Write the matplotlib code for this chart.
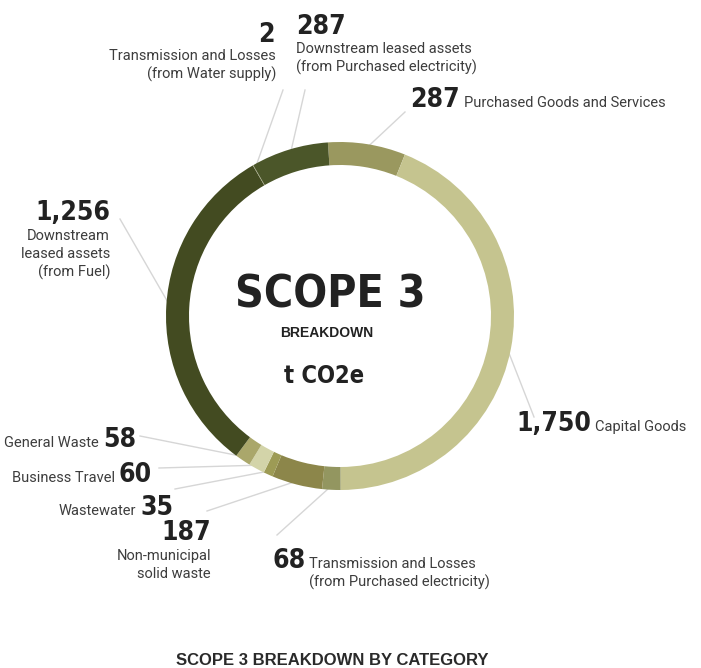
import numpy as np
from matplotlib import pyplot as plt

# scope 3 emissions by category (t CO2e), clockwise from the top
categories = ['Purchased Goods and Services', 'Capital Goods',
              'Transmission and Losses (from Purchased electricity)',
              'Non-municipal solid waste', 'Wastewater', 'Business Travel',
              'General Waste', 'Downstream leased assets (from Fuel)',
              'Transmission and Losses (from Water supply)',
              'Downstream leased assets (from Purchased electricity)']
values = [287, 1750, 68, 187, 35, 60, 58, 1256, 2, 287]
value_labels = ['287', '1,750', '68', '187', '35', '60', '58', '1,256', '2', '287']
colors = ['#9a985f', '#c5c48f', '#939660', '#8c864a', '#9d9b55',
          '#d3d4a9', '#aaa76b', '#434b21', '#a3a37c', '#4b5629']

W, H = 701, 668
CX, CY = 340, 316       # ring centre, measured from the top
R, RING = 174, 23

NUM_FONT = ['DejaVu Sans']
TXT_FONT = ['Roboto', 'DejaVu Sans']
TXT_SIZE = 10.5
NUM_COLOR = '#222222'
TXT_COLOR = '#3d3d3d'
LINE_COLOR = '#d6d6d6'


def Y(y):
    # top-down pixel position -> axis units
    return H - y


fig = plt.figure(figsize=(W / 100, H / 100), dpi=100)
ax = fig.add_axes([0, 0, 1, 1])
wedges, _ = ax.pie(values, colors=colors, startangle=94, counterclock=False,
                   radius=R, center=(CX, Y(CY)),
                   wedgeprops=dict(width=RING, edgecolor='none'))
ax.set_xlim(0, W)
ax.set_ylim(0, H)
ax.set_aspect('equal')
ax.axis('off')


def leader(i, x_end, y_end):
    w = wedges[i]
    th = np.deg2rad((w.theta1 + w.theta2) / 2)
    x0 = CX + (R - 4) * np.cos(th)
    y0 = Y(CY) + (R - 4) * np.sin(th)
    ax.plot([x0, x_end], [y0, Y(y_end)], color=LINE_COLOR, lw=1, zorder=0)


def number(s, x, y, ha, size=19):
    return ax.text(x, Y(y), s, ha=ha, va='baseline', fontsize=size,
                   fontweight='bold', fontstretch='condensed',
                   family=NUM_FONT, color=NUM_COLOR)


def side_text(num, s, y, side):
    # plain label placed right or left of the big number, same baseline
    if side == 'right':
        ax.annotate(s, xy=(1, Y(y)), xycoords=(num, 'data'), xytext=(3, 0),
                    textcoords='offset points', ha='left', va='baseline',
                    fontsize=TXT_SIZE, family=TXT_FONT, color=TXT_COLOR)
    else:
        ax.annotate(s, xy=(0, Y(y)), xycoords=(num, 'data'), xytext=(-3, 0),
                    textcoords='offset points', ha='right', va='baseline',
                    fontsize=TXT_SIZE, family=TXT_FONT, color=TXT_COLOR)


def lines(rows, x, y0, step, ha):
    for k, s in enumerate(rows):
        ax.text(x, Y(y0 + k * step), s, ha=ha, va='baseline', fontsize=TXT_SIZE,
                family=TXT_FONT, color=TXT_COLOR)


# Purchased Goods and Services
n = number(value_labels[0], 410, 107, 'left')
side_text(n, 'Purchased Goods and Services', 107, 'right')
leader(0, 405, 112)

# Capital Goods
n = number(value_labels[1], 516, 431, 'left')
side_text(n, 'Capital Goods', 431, 'right')
leader(1, 534, 417)

# Transmission and Losses (purchased electricity)
n = number(value_labels[2], 272, 568, 'left')
side_text(n, 'Transmission and Losses', 568, 'right')
side_text(n, '(from Purchased electricity)', 587, 'right')
leader(2, 277, 535)

# Non-municipal solid waste
number(value_labels[3], 211, 540, 'right')
lines(['Non-municipal', 'solid waste'], 211, 560, 18.5, 'right')
leader(3, 207, 511)

# Wastewater
n = number(value_labels[4], 173, 515, 'right')
side_text(n, 'Wastewater', 515, 'left')
leader(4, 175, 489)

# Business Travel
n = number(value_labels[5], 152, 482, 'right')
side_text(n, 'Business Travel', 482, 'left')
leader(5, 159, 468)

# General Waste
n = number(value_labels[6], 136, 447, 'right')
side_text(n, 'General Waste', 447, 'left')
leader(6, 140, 436)

# Downstream leased assets (fuel)
number(value_labels[7], 110, 220, 'right')
lines(['Downstream', 'leased assets', '(from Fuel)'], 110, 240, 18.5, 'right')
leader(7, 120, 219)

# Transmission and Losses (water supply)
number(value_labels[8], 275, 42, 'right')
lines(['Transmission and Losses', '(from Water supply)'], 276, 60, 19, 'right')
leader(8, 283, 90)

# Downstream leased assets (purchased electricity)
number(value_labels[9], 296, 34, 'left')
lines(['Downstream leased assets', '(from Purchased electricity)'], 296, 53, 19, 'left')
leader(9, 305, 90)

# centre titles
number('SCOPE 3', 330, 307, 'center', size=32)
ax.text(327, Y(337), 'BREAKDOWN', ha='center', va='baseline', fontsize=10,
        fontweight='bold', family=['Liberation Sans', 'DejaVu Sans'], color=NUM_COLOR)
number('t CO2e', 324, 383, 'center', size=17)

# footer
ax.text(332, Y(665), 'SCOPE 3 BREAKDOWN BY CATEGORY', ha='center', va='baseline',
        fontsize=12, fontweight='bold', family=['Liberation Sans', 'DejaVu Sans'],
        color='#2a2a2a')

fig.savefig('out.png', dpi=100)
